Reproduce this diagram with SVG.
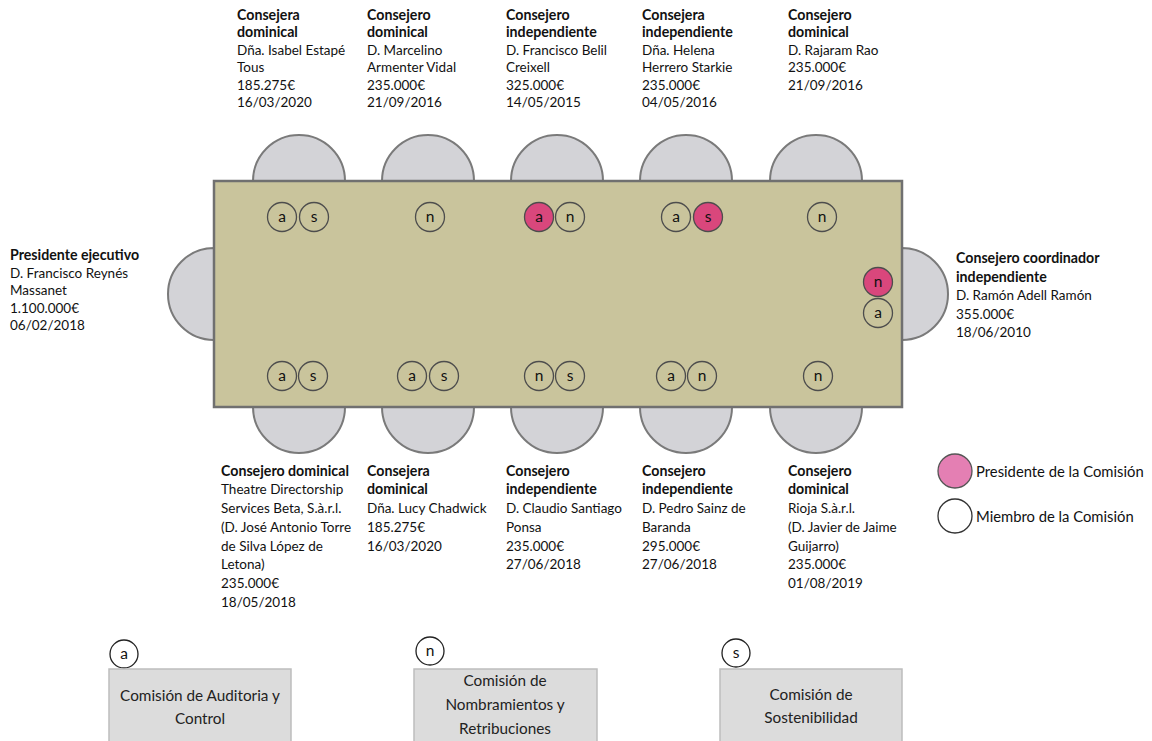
<svg xmlns="http://www.w3.org/2000/svg" width="1152" height="741" viewBox="0 0 1152 741">
<style>
text{font-family:Lato,"Liberation Sans",sans-serif;fill:#111}
.lbl{font-size:13.5px}
.b{font-weight:bold;font-size:14.2px}
.chair{fill:#d3d3d7;stroke:#7a7a7a;stroke-width:2}
.table{fill:#c9c49c;stroke:#707070;stroke-width:2.5}
.bd{fill:none;stroke:#4d4d4d;stroke-width:1.3}
.bp{fill:#d9477c;stroke:#4d4d4d;stroke-width:1.3}
.bt{font-size:15.5px;text-anchor:middle}
.box{fill:#dcdcdc;stroke:#bdbdbd;stroke-width:1.5}
.boxt{font-size:15.3px;text-anchor:middle;fill:#222}
.kc{fill:#fff;stroke:#222;stroke-width:1.3}
.lg{font-size:14.8px}
</style>
<g id="chairs">
<path class="chair" d="M253,181 A46,46 0 0 1 345,181 Z"/>
<path class="chair" d="M382,181 A46,46 0 0 1 474,181 Z"/>
<path class="chair" d="M511,181 A46,46 0 0 1 603,181 Z"/>
<path class="chair" d="M640,181 A46,46 0 0 1 732,181 Z"/>
<path class="chair" d="M770,181 A46,46 0 0 1 862,181 Z"/>
<path class="chair" d="M253,407 A46,46 0 0 0 345,407 Z"/>
<path class="chair" d="M382,407 A46,46 0 0 0 474,407 Z"/>
<path class="chair" d="M511,407 A46,46 0 0 0 603,407 Z"/>
<path class="chair" d="M640,407 A46,46 0 0 0 732,407 Z"/>
<path class="chair" d="M770,407 A46,46 0 0 0 862,407 Z"/>
<path class="chair" d="M214,248 A46,46 0 0 0 214,340 Z"/>
<path class="chair" d="M902,248 A46,46 0 0 1 902,340 Z"/>
</g>
<rect id="table" class="table" x="214" y="181" width="688" height="226"/>
<g id="badges">
<circle class="bd" cx="282" cy="217" r="14.5"/><text class="bt" x="282" y="222">a</text>
<circle class="bd" cx="314" cy="217" r="14.5"/><text class="bt" x="314" y="222">s</text>
<circle class="bd" cx="430" cy="217" r="14.5"/><text class="bt" x="430" y="222">n</text>
<circle class="bp" cx="539" cy="217" r="14.5"/><text class="bt" x="539" y="222">a</text>
<circle class="bd" cx="570" cy="217" r="14.5"/><text class="bt" x="570" y="222">n</text>
<circle class="bd" cx="676" cy="217" r="14.5"/><text class="bt" x="676" y="222">a</text>
<circle class="bp" cx="708" cy="217" r="14.5"/><text class="bt" x="708" y="222">s</text>
<circle class="bd" cx="822" cy="217" r="14.5"/><text class="bt" x="822" y="222">n</text>
<circle class="bd" cx="282" cy="376" r="14.5"/><text class="bt" x="282" y="381">a</text>
<circle class="bd" cx="313" cy="376" r="14.5"/><text class="bt" x="313" y="381">s</text>
<circle class="bd" cx="412" cy="376" r="14.5"/><text class="bt" x="412" y="381">a</text>
<circle class="bd" cx="444" cy="376" r="14.5"/><text class="bt" x="444" y="381">s</text>
<circle class="bd" cx="539" cy="376" r="14.5"/><text class="bt" x="539" y="381">n</text>
<circle class="bd" cx="570" cy="376" r="14.5"/><text class="bt" x="570" y="381">s</text>
<circle class="bd" cx="671" cy="376" r="14.5"/><text class="bt" x="671" y="381">a</text>
<circle class="bd" cx="702" cy="376" r="14.5"/><text class="bt" x="702" y="381">n</text>
<circle class="bd" cx="818" cy="376" r="14.5"/><text class="bt" x="818" y="381">n</text>
<circle class="bp" cx="878" cy="282" r="14.5"/><text class="bt" x="878" y="287">n</text>
<circle class="bd" cx="878" cy="313" r="14.5"/><text class="bt" x="878" y="318">a</text>
</g>
<g id="t1" class="lbl">
<text x="237" y="20" class="b">Consejera</text><text x="237" y="37.4" class="b">dominical</text>
<text x="237" y="54.8">Dña. Isabel Estapé</text><text x="237" y="72.2">Tous</text>
<text x="237" y="89.6">185.275€</text><text x="237" y="107">16/03/2020</text>
</g>
<g id="t2" class="lbl">
<text x="367" y="20" class="b">Consejero</text><text x="367" y="37.4" class="b">dominical</text>
<text x="367" y="54.8">D. Marcelino</text><text x="367" y="72.2">Armenter Vidal</text>
<text x="367" y="89.6">235.000€</text><text x="367" y="107">21/09/2016</text>
</g>
<g id="t3" class="lbl">
<text x="506" y="20" class="b">Consejero</text><text x="506" y="37.4" class="b">independiente</text>
<text x="506" y="54.8">D. Francisco Belil</text><text x="506" y="72.2">Creixell</text>
<text x="506" y="89.6">325.000€</text><text x="506" y="107">14/05/2015</text>
</g>
<g id="t4" class="lbl">
<text x="642" y="20" class="b">Consejera</text><text x="642" y="37.4" class="b">independiente</text>
<text x="642" y="54.8">Dña. Helena</text><text x="642" y="72.2">Herrero Starkie</text>
<text x="642" y="89.6">235.000€</text><text x="642" y="107">04/05/2016</text>
</g>
<g id="t5" class="lbl">
<text x="788" y="20" class="b">Consejero</text><text x="788" y="37.4" class="b">dominical</text>
<text x="788" y="54.8">D. Rajaram Rao</text><text x="788" y="72.2">235.000€</text>
<text x="788" y="89.6">21/09/2016</text>
</g>
<g id="tl" class="lbl">
<text x="10" y="260" class="b">Presidente ejecutivo</text><text x="10" y="277.5">D. Francisco Reynés</text>
<text x="10" y="295">Massanet</text><text x="10" y="312.5">1.100.000€</text><text x="10" y="330">06/02/2018</text>
</g>
<g id="tr" class="lbl">
<text x="956" y="263" class="b">Consejero coordinador</text><text x="956" y="281.6" class="b">independiente</text>
<text x="956" y="300.2">D. Ramón Adell Ramón</text><text x="956" y="318.8">355.000€</text><text x="956" y="337.4">18/06/2010</text>
</g>
<g id="b1" class="lbl">
<text x="221" y="475.7" class="b">Consejero dominical</text><text x="221" y="494.4">Theatre Directorship</text>
<text x="221" y="513.1">Services Beta, S.à.r.l.</text><text x="221" y="531.8">(D. José Antonio Torre</text>
<text x="221" y="550.5">de Silva López de</text><text x="221" y="569.2">Letona)</text>
<text x="221" y="587.9">235.000€</text><text x="221" y="606.6">18/05/2018</text>
</g>
<g id="b2" class="lbl">
<text x="367" y="475.7" class="b">Consejera</text><text x="367" y="494.4" class="b">dominical</text>
<text x="367" y="513.1">Dña. Lucy Chadwick</text><text x="367" y="531.8">185.275€</text><text x="367" y="550.5">16/03/2020</text>
</g>
<g id="b3" class="lbl">
<text x="506" y="475.7" class="b">Consejero</text><text x="506" y="494.4" class="b">independiente</text>
<text x="506" y="513.1">D. Claudio Santiago</text><text x="506" y="531.8">Ponsa</text>
<text x="506" y="550.5">235.000€</text><text x="506" y="569.2">27/06/2018</text>
</g>
<g id="b4" class="lbl">
<text x="642" y="475.7" class="b">Consejero</text><text x="642" y="494.4" class="b">independiente</text>
<text x="642" y="513.1">D. Pedro Sainz de</text><text x="642" y="531.8">Baranda</text>
<text x="642" y="550.5">295.000€</text><text x="642" y="569.2">27/06/2018</text>
</g>
<g id="b5" class="lbl">
<text x="788" y="475.7" class="b">Consejero</text><text x="788" y="494.4" class="b">dominical</text>
<text x="788" y="513.1">Rioja S.à.r.l.</text><text x="788" y="531.8">(D. Javier de Jaime</text>
<text x="788" y="550.5">Guijarro)</text><text x="788" y="569.2">235.000€</text><text x="788" y="587.9">01/08/2019</text>
</g>
<g id="legend">
<circle cx="955" cy="471" r="17" fill="#e47fb3" stroke="#555" stroke-width="1.3"/>
<text class="lg" x="976" y="476.5">Presidente de la Comisión</text>
<circle cx="955" cy="516" r="17" fill="#fff" stroke="#333" stroke-width="1.3"/>
<text class="lg" x="976" y="521.5">Miembro de la Comisión</text>
</g>
<g id="com-a">
<circle class="kc" cx="124" cy="654" r="14"/><text class="bt" x="124" y="659">a</text>
<rect class="box" x="109" y="669" width="182" height="80"/>
<text class="boxt" x="200" y="701">Comisión de Auditoria y</text>
<text class="boxt" x="200" y="724">Control</text>
</g>
<g id="com-n">
<circle class="kc" cx="430" cy="651" r="14"/><text class="bt" x="430" y="656">n</text>
<rect class="box" x="414" y="669" width="183" height="80"/>
<text class="boxt" x="505" y="686">Comisión de</text>
<text class="boxt" x="505" y="710">Nombramientos y</text>
<text class="boxt" x="505" y="734">Retribuciones</text>
</g>
<g id="com-s">
<circle class="kc" cx="736" cy="653" r="14"/><text class="bt" x="736" y="658">s</text>
<rect class="box" x="720" y="669" width="182" height="80"/>
<text class="boxt" x="811" y="700">Comisión de</text>
<text class="boxt" x="811" y="723">Sostenibilidad</text>
</g>
<g id="connectors"/>
</svg>
